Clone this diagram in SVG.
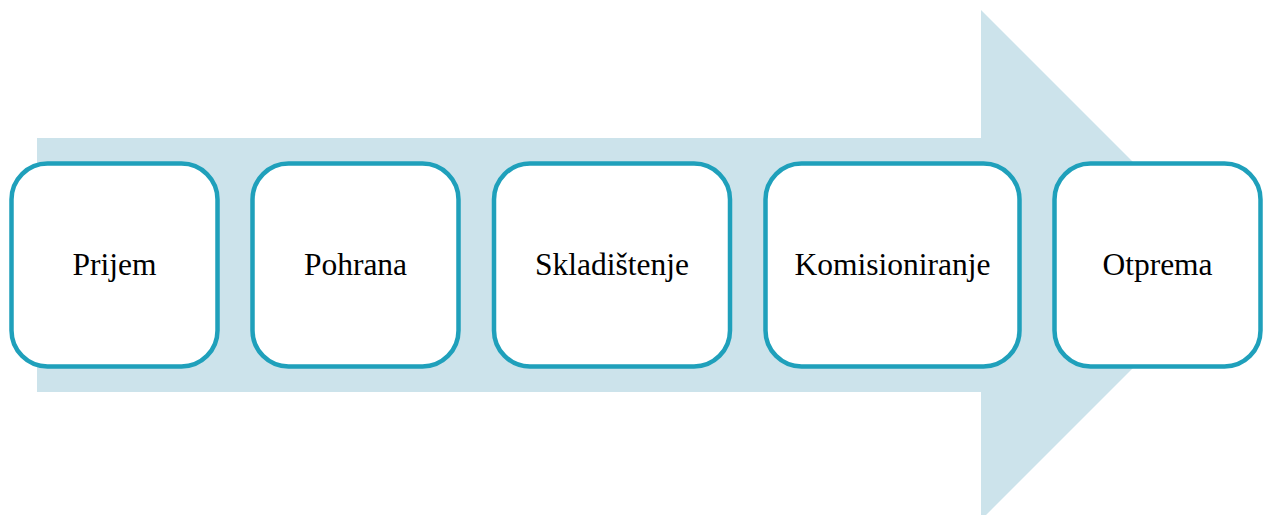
<svg xmlns="http://www.w3.org/2000/svg" width="1270" height="515" viewBox="0 0 1270 515">
<style>
.box{fill:#ffffff;stroke:#1fa0bb;stroke-width:4.5}
.lbl{font-family:"Liberation Serif","Times New Roman",serif;font-size:31.5px;fill:#000;text-anchor:middle}
</style>
<rect width="1270" height="515" fill="#ffffff"/>
<g id="arrow">
<polygon points="37,138 981,138 981,10 1236,265 981,520 981,392 37,392" fill="#cce3eb"/>
</g>
<g id="connectors"></g>
<g id="n1"><rect class="box" x="11.5" y="163.5" width="206" height="203" rx="36"/><text class="lbl" x="114.5" y="275">Prijem</text></g>
<g id="n2"><rect class="box" x="252.5" y="163.5" width="206" height="203" rx="36"/><text class="lbl" x="355.5" y="275">Pohrana</text></g>
<g id="n3"><rect class="box" x="494" y="163.5" width="236" height="203" rx="36"/><text class="lbl" x="612" y="275">Skladištenje</text></g>
<g id="n4"><rect class="box" x="765.5" y="163.5" width="254" height="203" rx="36"/><text class="lbl" x="892.5" y="275">Komisioniranje</text></g>
<g id="n5"><rect class="box" x="1054.5" y="163.5" width="206" height="203" rx="36"/><text class="lbl" x="1157.5" y="275">Otprema</text></g>
</svg>
